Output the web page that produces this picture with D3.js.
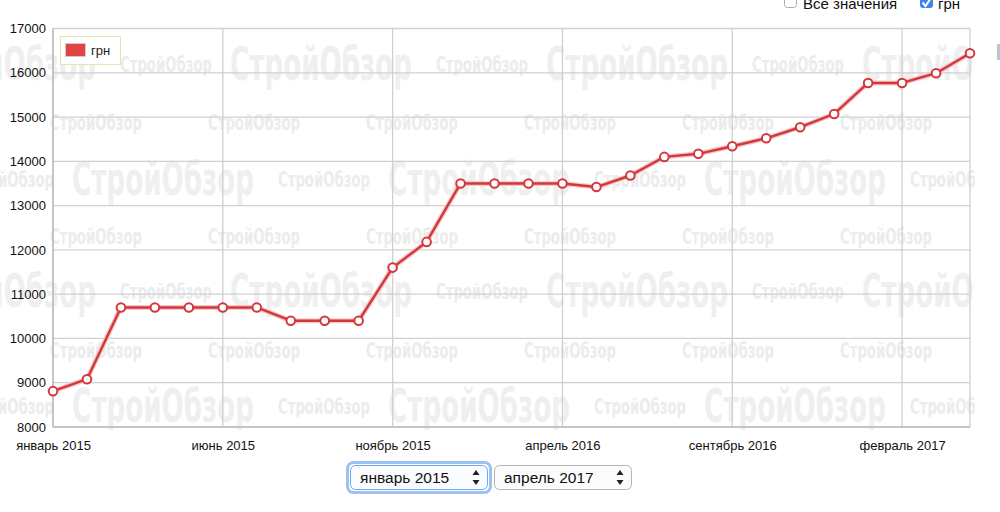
<!DOCTYPE html>
<html><head><meta charset="utf-8">
<script src="https://cdn.jsdelivr.net/npm/d3@7"></script>
<style>
html,body{margin:0;padding:0;background:#fff;}
svg{display:block;}
</style></head>
<body>
<svg id="c" width="1000" height="512"></svg>
<script>
const months = ["январь 2015","февраль 2015","март 2015","апрель 2015","май 2015","июнь 2015","июль 2015","август 2015","сентябрь 2015","октябрь 2015","ноябрь 2015","декабрь 2015",
"январь 2016","февраль 2016","март 2016","апрель 2016","май 2016","июнь 2016","июль 2016","август 2016","сентябрь 2016","октябрь 2016","ноябрь 2016","декабрь 2016",
"январь 2017","февраль 2017","март 2017","апрель 2017"];
const values = [8810,9080,10700,10700,10700,10700,10700,10400,10400,10400,11600,12180,
13500,13500,13500,13500,13420,13680,14100,14170,14340,14520,14770,15070,
15770,15770,15990,16440];
const yTicks = [8000,9000,10000,11000,12000,13000,14000,15000,16000,17000];
const xTickIdx = [0,5,10,15,20,25];
const seriesName = "грн";
const checkLabels = ["Все значения","грн"];
const selectLabels = ["январь 2015","апрель 2017"];
const watermark = "СтройОбзор";

const svg = d3.select("#c");
const FONT = "'Liberation Sans', Arial, Helvetica, sans-serif";
const L=53, R=970, T=28.5, B=427;
const x = d3.scaleLinear().domain([0, months.length-1]).range([L, R]);
const y = d3.scaleLinear().domain([8000,17000]).range([B, T]);

// watermark
const defs = svg.append("defs");
defs.append("clipPath").attr("id","wm").append("rect").attr("x",0).attr("y",T).attr("width",975).attr("height",430-T);
const wm = svg.append("g").attr("clip-path","url(#wm)")
  .style("font-family","'Liberation Sans Narrow','DejaVu Sans Condensed',"+FONT).style("font-weight","bold");
function big(xs, yb){ xs.forEach(x0=>wm.append("text").attr("x",x0).attr("y",yb).attr("textLength",182).attr("lengthAdjust","spacingAndGlyphs").attr("font-size",46).attr("fill","#efefef").text(watermark)); }
function small(xs, yb){ xs.forEach(x0=>wm.append("text").attr("x",x0).attr("y",yb).attr("textLength",92).attr("lengthAdjust","spacingAndGlyphs").attr("font-size",22).attr("fill","#ececec").text(watermark)); }
[0,1].forEach(k=>{
  const o = k*227;
  big([-86,230,546,862], 80+o);
  small([-196,120,436,752], 72+o);
  big([-244,72,388,704,1020], 195+o);
  small([-38,278,594,910], 187+o);
});
[0,1,2].forEach(k=>{
  small([50,208,366,524,682,840], 130+k*114);
});

// grid
const g = svg.append("g");
yTicks.forEach(v=>{
  g.append("line").attr("x1",L).attr("x2",R).attr("y1",y(v)).attr("y2",y(v)).attr("stroke","#d0d0d0").attr("stroke-width",1.3);
});
xTickIdx.concat([months.length-1]).forEach(i=>{
  g.append("line").attr("x1",x(i)).attr("x2",x(i)).attr("y1",T).attr("y2",B).attr("stroke","#d0d0d0").attr("stroke-width",1.3);
});
g.append("line").attr("x1",L).attr("x2",L).attr("y1",T).attr("y2",B).attr("stroke","#bdbdbd").attr("stroke-width",1.5);
g.append("line").attr("x1",L).attr("x2",R).attr("y1",B).attr("y2",B).attr("stroke","#bdbdbd").attr("stroke-width",1.5);

// axes labels
const yAxis = d3.axisLeft(y).tickValues(yTicks).tickSize(0).tickPadding(7).tickFormat(d3.format("d"));
svg.append("g").attr("transform",`translate(${L},0)`).call(yAxis)
  .call(s=>s.select(".domain").remove())
  .selectAll("text").attr("font-family",FONT).attr("font-size",13).attr("fill","#111");
const xAxis = d3.axisBottom(x).tickValues(xTickIdx).tickSize(0).tickPadding(14).tickFormat(i=>months[i]);
svg.append("g").attr("transform",`translate(0,${B})`).call(xAxis)
  .call(s=>s.select(".domain").remove())
  .selectAll("text").attr("font-family",FONT).attr("font-size",13).attr("fill","#111");

// line
const line = d3.line().x((d,i)=>x(i)).y(d=>y(d));
svg.append("path").datum(values).attr("d",line).attr("fill","none").attr("stroke","#f3c9c9").attr("stroke-width",5).attr("stroke-linejoin","round");
svg.append("path").datum(values).attr("d",line).attr("fill","none").attr("stroke","#d4373b").attr("stroke-width",2.4).attr("stroke-linejoin","round");
svg.append("g").selectAll("circle").data(values).join("circle")
  .attr("cx",(d,i)=>x(i)).attr("cy",d=>y(d)).attr("r",4.3)
  .attr("fill","#fff").attr("stroke","#d4373b").attr("stroke-width",2);

// legend
const lg = svg.append("g");
lg.append("rect").attr("x",60.5).attr("y",36.5).attr("width",60).attr("height",28).attr("fill","#fff").attr("stroke","#e6e2b8").attr("stroke-width",1);
lg.append("rect").attr("x",65.5).attr("y",43.5).attr("width",20).attr("height",13).attr("fill","#e04444").attr("stroke","#d8c8c8").attr("stroke-width",1);
lg.append("text").attr("x",91).attr("y",55).attr("font-family",FONT).attr("font-size",13).attr("fill","#222").text(seriesName);

// top checkboxes
const cb = svg.append("g").style("font-family",FONT);
cb.append("rect").attr("x",784.5).attr("y",-4.5).attr("width",12).attr("height",12).attr("rx",3).attr("fill","#fff").attr("stroke","#aaa");
cb.append("text").attr("x",803).attr("y",9).attr("font-size",15).attr("fill","#111").text(checkLabels[0]);
cb.append("rect").attr("x",920).attr("y",-5).attr("width",13).attr("height",13).attr("rx",3).attr("fill","#3b84f0");
cb.append("path").attr("d","M922.5,2.5 L925.5,6 L931,-2").attr("fill","none").attr("stroke","#fff").attr("stroke-width",2);
cb.append("text").attr("x",938).attr("y",9).attr("font-size",15).attr("fill","#111").text(checkLabels[1]);
cb.append("rect").attr("x",997).attr("y",44).attr("width",4).attr("height",16).attr("fill","#b8c4d4");

// selects
const sel = svg.append("g").style("font-family",FONT);
const boxes = [{x:350,w:138},{x:494,w:138}];
boxes.forEach((b,i)=>{
  if(i===0){
    sel.append("rect").attr("x",b.x-2.5).attr("y",462.5).attr("width",b.w+5).attr("height",30).attr("rx",6).attr("fill","none").attr("stroke","#9cc2f2").attr("stroke-width",3);
  }
  sel.append("rect").attr("x",b.x+0.5).attr("y",465.5).attr("width",b.w-1).attr("height",24).attr("rx",5)
    .attr("fill", i===0?"#fafcff":"#fbfbfb").attr("stroke", i===0?"#6fa6ec":"#b5b5b5").attr("stroke-width",1);
  sel.append("text").attr("x",b.x+10).attr("y",483).attr("font-size",15.5).attr("fill","#111").text(selectLabels[i]);
  const ax = b.x+b.w-12;
  sel.append("path").attr("d",`M${ax-3.5},${475} L${ax},${470} L${ax+3.5},${475} Z M${ax-3.5},${480} L${ax},${485} L${ax+3.5},${480} Z`).attr("fill","#222");
});
</script>
</body></html>
